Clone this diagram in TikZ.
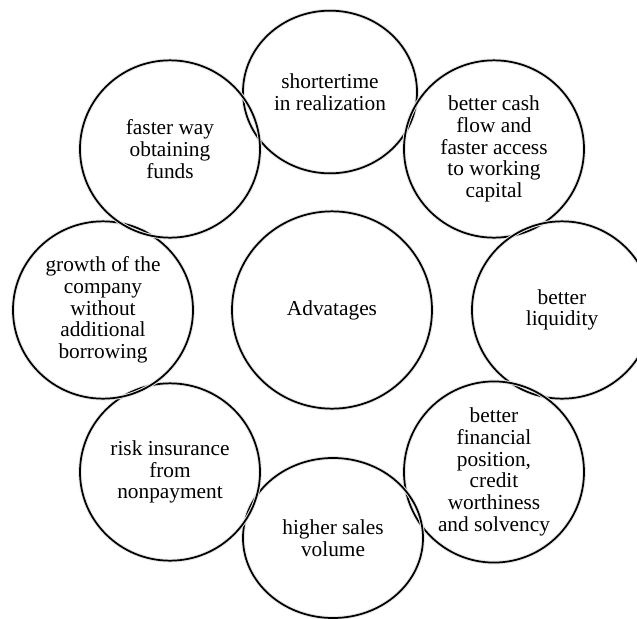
\documentclass[tikz,border=0pt]{standalone}
\usepackage{fontspec}
\setmainfont{Liberation Serif}
\usetikzlibrary{shapes.geometric}

\tikzset{every picture/.style={line width=0.75pt}}
\tikzset{
  bubble/.style={ellipse, draw=black, line width=1.3pt, inner sep=0pt, align=center,
    preaction={draw=black!10, line width=2.8pt},
    font=\fontsize{16}{16.3}\selectfont},
  sidebubble/.style={bubble, minimum width=135pt, minimum height=133pt},
}

\begin{document}
\begin{tikzpicture}[x=0.75pt,y=0.75pt,yscale=-1,xscale=1]
	%set diagram left start at 0, and has height of 619
	\clip (0,0) rectangle (637,619);
	\path [fill=white] (0,0) rectangle (637,619);
	
	%Shape: Ellipse [id:centre]
	\draw (332,310) node [bubble, minimum width=150pt, minimum height=148pt] (adv) {Advatages};
	
	%Shape: Ellipse [id:top]
	\draw (330,92) node [bubble, minimum width=130.5pt, minimum height=122pt] (time) {shortertime\\in realization};
	%Shape: Ellipse [id:topright]
	\draw (494,149) node [sidebubble] (cash) {better cash\\flow and\\faster access\\to working\\capital};
	%Shape: Ellipse [id:right]
	\draw (562,310) node [sidebubble] (liquid) {better\\liquidity};
	%Shape: Ellipse [id:bottomright]
	\draw (494,472) node [sidebubble] (position) {better\\financial\\position,\\credit\\worthiness\\and solvency};
	%Shape: Ellipse [id:bottom]
	\draw (333,538) node [bubble, minimum width=135pt, minimum height=120pt] (sales) {higher sales\\volume};
	%Shape: Ellipse [id:bottomleft]
	\draw (170,472) node [sidebubble] (risk) {risk insurance\\from\\nonpayment};
	%Shape: Ellipse [id:left]
	\draw (103,310) node [sidebubble] (growth) {growth of the\\company\\without\\additional\\borrowing};
	%Shape: Ellipse [id:topleft]
	\draw (170,149) node [sidebubble] (funds) {faster way\\obtaining\\funds};
	
\end{tikzpicture}
\end{document}
